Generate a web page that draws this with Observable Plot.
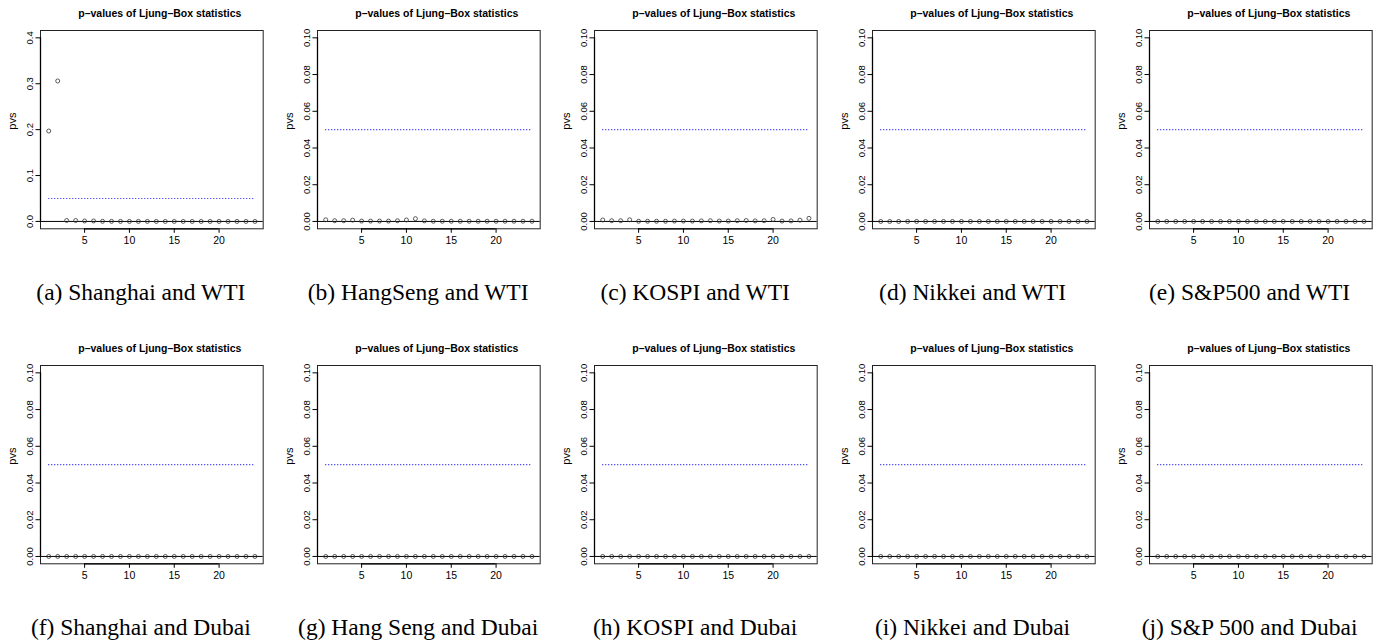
<!DOCTYPE html>
<html><head><meta charset="utf-8">
<script src="https://cdn.jsdelivr.net/npm/d3@7"></script>
<script src="https://cdn.jsdelivr.net/npm/@observablehq/plot@0.6"></script>
<style>
body{margin:0;background:#fff;}
#root{position:relative;width:1380px;height:643px;overflow:hidden;background:#fff;}
.panel{position:absolute;overflow:visible;}
.cap{position:absolute;font-family:"Liberation Serif","Times New Roman",serif;font-size:23.5px;line-height:1;white-space:nowrap;transform:translateX(-50%);color:#000;}
</style></head><body><div id="root"></div>
<script>
// ---- data ----
const lags = [1,2,3,4,5,6,7,8,9,10,11,12,13,14,15,16,17,18,19,20,21,22,23,24];
const xTicks = [5,10,15,20];
const title = "p\u2013values of Ljung\u2013Box statistics";
const threshold = 0.05;

const pvShanghaiWTI = [0.197,0.306,0.002,0.002,0.001,0.001,0.0003,0.0002,0.0001,0.0001,0.0001,0.0001,0,0,0,0,0,0,0,0,0,0,0,0];
const pvHangSengWTI = [0.0009,0.0004,0.0004,0.0007,0.0002,0.0002,0.0002,0.0002,0.0004,0.0008,0.0015,0.0003,0.0001,0.0001,0.0001,0.0001,0.0001,0.0001,0.0001,0.0001,0.0001,0.0001,0.0001,0.0001];
const pvKOSPIWTI    = [0.0008,0.0004,0.0004,0.0009,0.0001,0.0001,0.0001,0.0001,0.0002,0.0002,0.0002,0.0003,0.0004,0.0002,0.0002,0.0004,0.0005,0.0003,0.0004,0.0011,0.0002,0.0003,0.0007,0.0017];
const pvNikkeiWTI   = [0,0,0,0,0,0,0,0,0,0,0,0,0,0,0,0,0,0,0,0,0,0,0,0];
const pvSP500WTI    = [0,0,0,0,0,0,0,0,0,0,0,0,0,0,0,0,0,0,0,0,0,0,0,0];
const pvShanghaiDubai = [0,0,0,0,0,0,0,0,0,0,0,0,0,0,0,0,0,0,0,0,0,0,0,0];
const pvHangSengDubai = [0,0,0,0,0,0,0,0,0,0,0,0,0,0,0,0,0,0,0,0,0,0,0,0];
const pvKOSPIDubai    = [0,0,0,0,0,0,0,0,0,0,0,0,0,0,0,0,0,0,0,0,0,0,0,0];
const pvNikkeiDubai   = [0,0,0,0,0,0,0,0,0,0,0,0,0,0,0,0,0,0,0,0,0,0,0,0];
const pvSP500Dubai    = [0,0,0,0,0,0,0,0,0,0,0,0,0,0,0,0,0,0,0,0,0,0,0,0];

const captions = ["(a) Shanghai and WTI","(b) HangSeng and WTI","(c) KOSPI and WTI","(d) Nikkei and WTI","(e) S&P500 and WTI",
                  "(f) Shanghai and Dubai","(g) Hang Seng and Dubai","(h) KOSPI and Dubai","(i) Nikkei and Dubai","(j) S&P 500 and Dubai"];
const series = [pvShanghaiWTI,pvHangSengWTI,pvKOSPIWTI,pvNikkeiWTI,pvSP500WTI,
                pvShanghaiDubai,pvHangSengDubai,pvKOSPIDubai,pvNikkeiDubai,pvSP500Dubai];
const ylimWide = [0, 0.4];
const ylimNarrow = [0, 0.1];
const yTicksWide = [0, 0.1, 0.2, 0.3, 0.4];
const yTicksNarrow = [0, 0.02, 0.04, 0.06, 0.08, 0.10];

// ---- layout ----
const colLefts = [40, 317.3, 594.3, 871.7, 1148.7];
const rowOffsets = [0, 335];
const boxW = 222.7, boxH = 198.3, mTop = 30, mLeft = 40, mRight = 8, mBottom = 21.7;
const root = document.getElementById("root");
const pad = ([a, b]) => [a - (b - a) * 0.04, b + (b - a) * 0.04];
const font = '"Liberation Sans", Arial, Helvetica, sans-serif';

series.forEach((vals, i) => {
  const col = i % 5, row = Math.floor(i / 5);
  const wide = i === 0;
  const ylim = wide ? ylimWide : ylimNarrow;
  const yticks = wide ? yTicksWide : yTicksNarrow;
  const yfmt = wide ? d3.format(".1f") : d3.format(".2f");
  const xd = pad([lags[0], lags[lags.length - 1]]);
  const yd = pad(ylim);
  const data = lags.map((l, k) => ({lag: l, p: vals[k]}));
  const svg = Plot.plot({
    width: mLeft + boxW + mRight, height: mTop + boxH + mBottom,
    marginLeft: mLeft, marginTop: mTop, marginRight: mRight, marginBottom: mBottom,
    x: {domain: xd, label: null},
    y: {domain: yd, label: null},
    style: {fontFamily: font, fontSize: "9.5px", background: "white", overflow: "visible", color: "#000"},
    marks: [
      Plot.frame({stroke: "#222", strokeWidth: 1}),
      Plot.ruleY([0], {stroke: "#000", strokeWidth: 1}),
      Plot.ruleY([threshold], {x1: lags[0], x2: lags[lags.length - 1], stroke: "#1f1fff", strokeWidth: 1.1, strokeDasharray: "1,2"}),
      Plot.dot(data, {x: "lag", y: "p", r: 2, stroke: "#333", strokeWidth: 0.8, fill: "none"}),
      Plot.axisX({ticks: xTicks, tickSize: 4.5, tickPadding: 3, tickFormat: d => String(d), label: null, fontSize: 10.5}),
      Plot.axisY({ticks: yticks, tickSize: 4.5, tickPadding: 3, tickRotate: -90, tickFormat: yfmt, label: null, fontSize: 9.5}),
      Plot.ruleY([yd[0]], {x1: xTicks[0], x2: xTicks[xTicks.length - 1], stroke: "#000", strokeWidth: 1.3}),
      Plot.ruleX([xd[0]], {y1: yticks[0], y2: yticks[yticks.length - 1], stroke: "#000", strokeWidth: 1.3}),
      Plot.text([title], {frameAnchor: "top", dy: -13.5, dx: 8, lineAnchor: "bottom", fontWeight: "bold", fontSize: 10.5}),
      Plot.text(["pvs"], {frameAnchor: "left", rotate: -90, dx: -28, fontSize: 11})
    ]
  });
  svg.classList.add("panel");
  svg.style.left = (colLefts[col] - mLeft) + "px";
  svg.style.top = rowOffsets[row] + "px";
  root.appendChild(svg);

  const cap = document.createElement("div");
  cap.className = "cap";
  cap.textContent = captions[i];
  cap.style.left = (colLefts[col] + boxW / 2 - 10.5) + "px";
  cap.style.top = (281.3 + rowOffsets[row]) + "px";
  root.appendChild(cap);
});
</script>
</body></html>
